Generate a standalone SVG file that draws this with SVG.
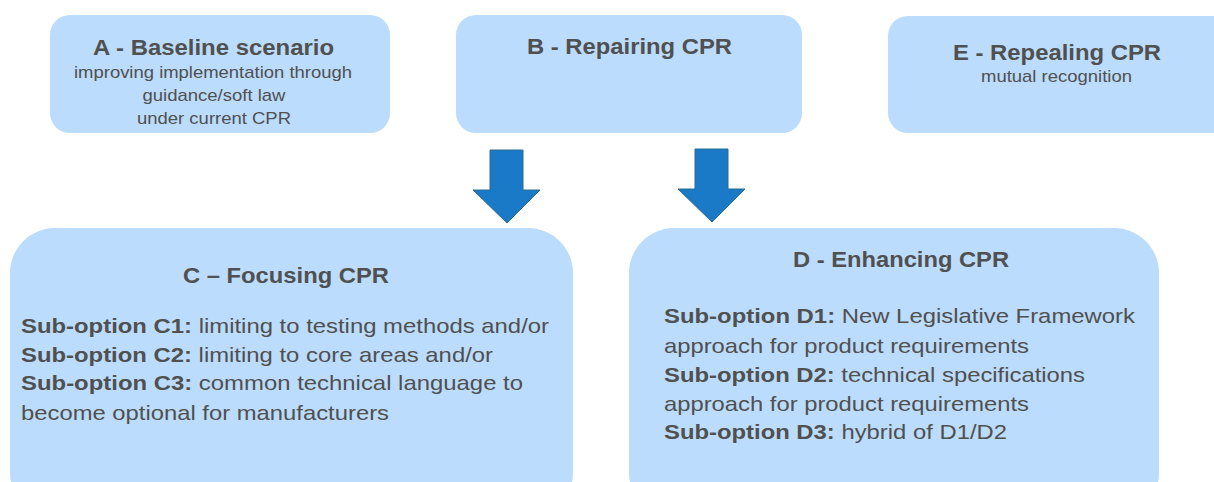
<svg xmlns="http://www.w3.org/2000/svg" width="1214" height="482" viewBox="0 0 1214 482">
<style>
.box{fill:#BBDCFC;}
.t{font-family:"Liberation Sans",Arial,sans-serif;fill:#505050;}
.ttl{font-weight:bold;font-size:22px;text-anchor:middle;}
.sub{font-size:17px;text-anchor:middle;}
.body{font-size:21px;}
.b{font-weight:bold;}
.arrow{fill:#1B7AC8;stroke:#2A6C8F;stroke-width:1;}
</style>
<rect width="1214" height="482" fill="#FFFFFF"/>
<g id="nodeA">
<rect class="box" x="50" y="15" width="340" height="118" rx="20"/>
<text class="t ttl" x="213.5" y="55" textLength="241" lengthAdjust="spacingAndGlyphs">A - Baseline scenario</text>
<text class="t sub" x="213" y="78" textLength="278" lengthAdjust="spacingAndGlyphs">improving implementation through</text>
<text class="t sub" x="214" y="101" textLength="143" lengthAdjust="spacingAndGlyphs">guidance/soft law</text>
<text class="t sub" x="214" y="124" textLength="154" lengthAdjust="spacingAndGlyphs">under current CPR</text>
</g>
<g id="nodeB">
<rect class="box" x="456" y="15" width="346" height="118" rx="20"/>
<text class="t ttl" x="629.5" y="54" textLength="205" lengthAdjust="spacingAndGlyphs">B - Repairing CPR</text>
</g>
<g id="nodeE">
<rect class="box" x="888" y="16" width="346" height="117" rx="20"/>
<text class="t ttl" x="1057" y="60" textLength="208" lengthAdjust="spacingAndGlyphs">E - Repealing CPR</text>
<text class="t sub" x="1056.5" y="82" textLength="151" lengthAdjust="spacingAndGlyphs">mutual recognition</text>
</g>
<g id="nodeC">
<rect class="box" x="10" y="228" width="563" height="290" rx="45"/>
<text class="t ttl" x="286" y="283" textLength="206" lengthAdjust="spacingAndGlyphs">C – Focusing CPR</text>
<text class="t body" x="21" y="333" textLength="528" lengthAdjust="spacingAndGlyphs"><tspan class="b">Sub-option C1:</tspan> limiting to testing methods and/or</text>
<text class="t body" x="21" y="362" textLength="472" lengthAdjust="spacingAndGlyphs"><tspan class="b">Sub-option C2:</tspan> limiting to core areas and/or</text>
<text class="t body" x="21" y="390" textLength="502" lengthAdjust="spacingAndGlyphs"><tspan class="b">Sub-option C3:</tspan> common technical language to</text>
<text class="t body" x="21" y="420" textLength="368" lengthAdjust="spacingAndGlyphs">become optional for manufacturers</text>
</g>
<g id="nodeD">
<rect class="box" x="629" y="228" width="530" height="290" rx="45"/>
<text class="t ttl" x="901" y="267" textLength="216" lengthAdjust="spacingAndGlyphs">D - Enhancing CPR</text>
<text class="t body" x="664" y="323" textLength="471" lengthAdjust="spacingAndGlyphs"><tspan class="b">Sub-option D1:</tspan> New Legislative Framework</text>
<text class="t body" x="664" y="353" textLength="365" lengthAdjust="spacingAndGlyphs">approach for product requirements</text>
<text class="t body" x="664" y="382" textLength="421" lengthAdjust="spacingAndGlyphs"><tspan class="b">Sub-option D2:</tspan> technical specifications</text>
<text class="t body" x="664" y="411" textLength="365" lengthAdjust="spacingAndGlyphs">approach for product requirements</text>
<text class="t body" x="664" y="439" textLength="343" lengthAdjust="spacingAndGlyphs"><tspan class="b">Sub-option D3:</tspan> hybrid of D1/D2</text>
</g>
<g id="connectors">
<polygon class="arrow" points="490,150 523,150 523,190 540,190 507,223 473,190 490,190"/>
<polygon class="arrow" points="695,149 728,149 728,189 745,189 712,222 678,189 695,189"/>
</g>
</svg>
